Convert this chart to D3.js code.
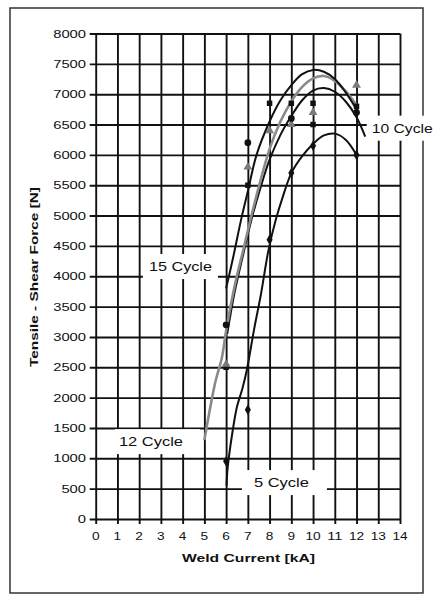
<!DOCTYPE html>
<html>
<head>
<meta charset="utf-8">
<script src="https://cdn.jsdelivr.net/npm/d3@7/dist/d3.min.js"></script>
<style>
  html, body { margin: 0; padding: 0; background: #fff; }
  svg { display: block; }
  text { font-family: "Liberation Sans", Arial, sans-serif; fill: #111; }
</style>
</head>
<body>
<script>
// Axis ticks
const xTicks = d3.range(0, 15);
const yTicks = d3.range(0, 8001, 500);

// Trend curves: [weld current kA, force N]
const curve15 = [[6, 3800], [6.33, 4320], [6.7, 4950], [7, 5400], [7.4, 6000], [8, 6550], [8.5, 6900], [9, 7150], [9.5, 7330], [10, 7400], [10.5, 7370], [11, 7250], [11.5, 7030], [12, 6750]];
const curve12 = [[5, 1300], [5.25, 1800], [5.5, 2250], [5.8, 2650], [6, 3100], [6.4, 3850], [6.8, 4450], [7.2, 5050], [7.6, 5600], [8, 6100], [8.5, 6550], [9, 6880], [9.5, 7120], [10, 7260], [10.5, 7300], [11, 7220], [11.5, 7050], [12, 6820]];
const curve10 = [[6.05, 3050], [6.4, 3750], [6.8, 4380], [7.2, 4980], [7.6, 5480], [8, 5920], [8.5, 6330], [9, 6640], [9.5, 6900], [10, 7060], [10.5, 7100], [11, 7040], [11.5, 6880], [12, 6620], [12.4, 6300]];
const curve5 = [[6.02, 550], [6.06, 800], [6.12, 1000], [6.3, 1450], [6.5, 1850], [6.75, 2150], [6.95, 2450], [7.3, 3150], [7.6, 3700], [7.95, 4430], [8.3, 4950], [8.6, 5300], [9, 5700], [9.5, 5980], [10, 6180], [10.5, 6320], [11, 6350], [11.5, 6250], [12, 6000]];

// Measured points
const pts15 = [[6, 3200], [7, 6200], [9, 6600], [12, 6700]];
const pts12 = [[6, 2550], [7, 5800], [8, 6400], [9, 6500], [10, 6700], [12, 7150]];
const pts10 = [[6, 2500], [7, 5500], [8, 6850], [9, 6850], [10, 6850], [10, 6500], [12, 6800]];
const pts5 = [[6, 950], [7, 1800], [8, 4600], [9, 5700], [10, 6150], [12, 6000]];

// Curve labels and their anchor (left end, vertical middle) in data units
const labelNames = ["10 Cycle", "15 Cycle", "12 Cycle", "5 Cycle"];
const labelAt = [[12.7, 6440], [2.45, 4160], [1.07, 1275], [7.28, 600]];

const W = 435, H = 595;
const svg = d3.select("body").append("svg").attr("width", W).attr("height", H);

const x = d3.scaleLinear().domain([0, 14]).range([95.7, 400]);
const y = d3.scaleLinear().domain([0, 8000]).range([519, 33.5]);

// outer frame
svg.append("rect").attr("x", 10).attr("y", 8).attr("width", 413).attr("height", 585)
  .attr("fill", "none").attr("stroke", "#333").attr("stroke-width", 1.5);

const gridColor = "#111", gridW = 1.9;

// horizontal grid + left ticks
const gy = svg.append("g").attr("transform", `translate(${x(0)},0)`)
  .call(d3.axisLeft(y).tickValues(yTicks).tickSize(0).tickFormat(""));
gy.select(".domain").remove();
gy.selectAll(".tick line").attr("x1", -6).attr("x2", x(14) - x(0))
  .attr("stroke", gridColor).attr("stroke-width", gridW);

// vertical grid + bottom ticks
const gx = svg.append("g").attr("transform", `translate(0,${y(0)})`)
  .call(d3.axisBottom(x).tickValues(xTicks).tickSize(0).tickFormat(""));
gx.select(".domain").remove();
gx.selectAll(".tick line").attr("y1", 5).attr("y2", y(8000) - y(0))
  .attr("stroke", gridColor).attr("stroke-width", gridW);

// y tick labels
svg.append("g").selectAll("text").data(yTicks).join("text")
  .attr("x", 86).attr("y", d => y(d)).attr("dy", "0.36em")
  .attr("text-anchor", "end").attr("font-size", 11.5)
  .attr("textLength", d => String(d).length * 8.2).attr("lengthAdjust", "spacingAndGlyphs")
  .text(d => d);

// x tick labels
svg.append("g").selectAll("text").data(xTicks).join("text")
  .attr("x", d => x(d)).attr("y", 536).attr("dy", "0.36em")
  .attr("text-anchor", "middle").attr("font-size", 11.5)
  .attr("textLength", d => String(d).length * 7.6).attr("lengthAdjust", "spacingAndGlyphs")
  .text(d => d);

// axis titles
svg.append("text").attr("x", 182).attr("y", 558).attr("dy", "0.36em")
  .attr("font-size", 11.5).attr("font-weight", "bold")
  .attr("textLength", 133).attr("lengthAdjust", "spacingAndGlyphs")
  .text("Weld Current  [kA]");
svg.append("text").attr("transform", "translate(34,367) rotate(-90)").attr("dy", "0.36em")
  .attr("font-size", 11.5).attr("font-weight", "bold")
  .attr("textLength", 180).attr("lengthAdjust", "spacingAndGlyphs")
  .text("Tensile - Shear Force  [N]");

// label boxes (drawn over grid, under curves)
const labelW = [61, 63, 64, 55];
const labelPad = [[5, 6], [6, 6], [4, 17], [12, 18]];
labelNames.forEach((t, i) => {
  const lx = x(labelAt[i][0]), ly = y(labelAt[i][1]);
  const right = i === 0 ? W - lx : labelW[i] + labelPad[i][1];
  svg.append("rect").attr("x", lx - labelPad[i][0]).attr("y", ly - 12.5)
    .attr("width", right + labelPad[i][0]).attr("height", 25).attr("fill", "#fff");
});

const line = d3.line().x(d => x(d[0])).y(d => y(d[1])).curve(d3.curveCatmullRom.alpha(0.5));

svg.append("path").datum(curve5).attr("d", line).attr("fill", "none").attr("stroke", "#111").attr("stroke-width", 2);
svg.append("path").datum(curve10).attr("d", line).attr("fill", "none").attr("stroke", "#111").attr("stroke-width", 2);
svg.append("path").datum(curve12).attr("d", line).attr("fill", "none").attr("stroke", "#8a8a8a").attr("stroke-width", 2.6);
svg.append("path").datum(curve15).attr("d", line).attr("fill", "none").attr("stroke", "#111").attr("stroke-width", 2);

// markers
svg.append("g").selectAll("path").data(pts5).join("path")
  .attr("d", d3.symbol(d3.symbolDiamond, 32)).attr("transform", d => `translate(${x(d[0])},${y(d[1])})`).attr("fill", "#111");
svg.append("g").selectAll("path").data(pts10).join("path")
  .attr("d", d3.symbol(d3.symbolSquare, 30)).attr("transform", d => `translate(${x(d[0])},${y(d[1])})`).attr("fill", "#111");
svg.append("g").selectAll("path").data(pts12).join("path")
  .attr("d", d3.symbol(d3.symbolTriangle, 34)).attr("transform", d => `translate(${x(d[0])},${y(d[1])})`).attr("fill", "#7a7a7a");
svg.append("g").selectAll("path").data(pts15).join("path")
  .attr("d", d3.symbol(d3.symbolCircle, 36)).attr("transform", d => `translate(${x(d[0])},${y(d[1])})`).attr("fill", "#111");

// curve labels
labelNames.forEach((t, i) => {
  svg.append("text").attr("x", x(labelAt[i][0])).attr("y", y(labelAt[i][1])).attr("dy", "0.36em")
    .attr("font-size", 13).attr("textLength", labelW[i]).attr("lengthAdjust", "spacingAndGlyphs")
    .text(t);
});
</script>
</body>
</html>
